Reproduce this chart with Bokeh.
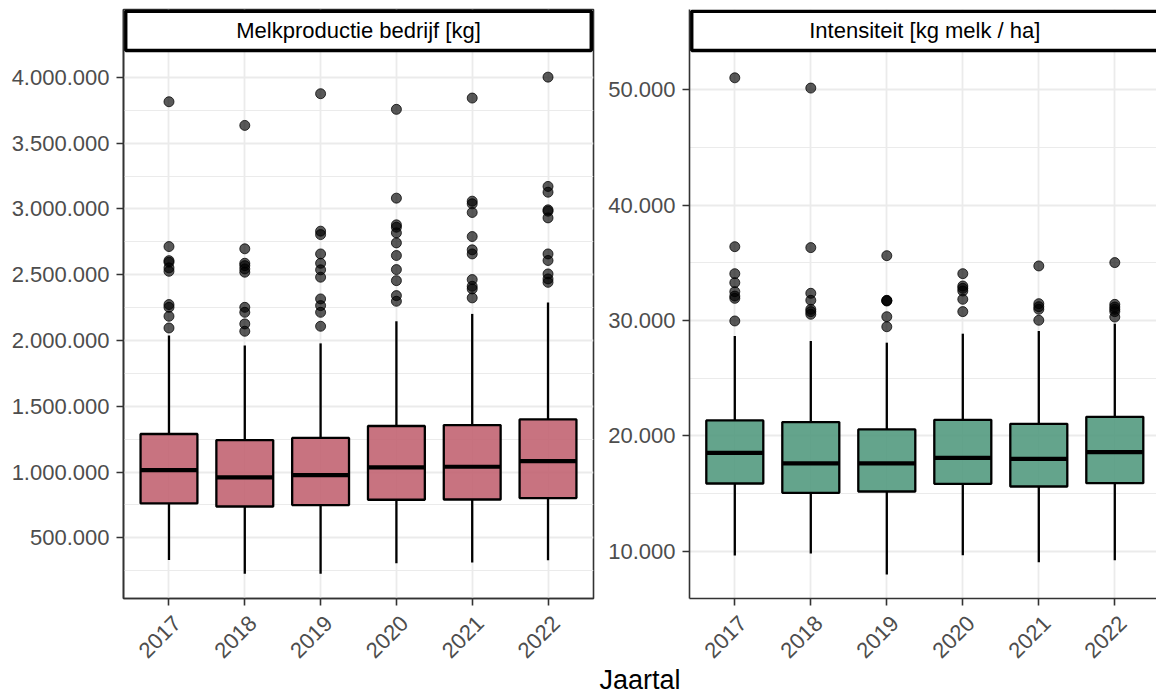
import math
from bokeh.plotting import figure
from bokeh.models import Range1d, FixedTicker, LinearAxis, Title
from bokeh.layouts import row
from bokeh.embed import file_html
from bokeh.resources import INLINE
from bokeh.core.properties import value

# ---------------- data ----------------
years = ["2017", "2018", "2019", "2020", "2021", "2022"]

melk_low = [332000, 226000, 226000, 307000, 312000, 330000]
melk_q1 = [761000, 738000, 749000, 789000, 791000, 802000]
melk_med = [1015000, 959000, 977000, 1035000, 1040000, 1083000]
melk_q3 = [1289000, 1243000, 1259000, 1350000, 1357000, 1400000]
melk_high = [2037000, 1961000, 1978000, 2146000, 2202000, 2288000]
melk_out = [
    [3815000, 2714000, 2607000, 2595000, 2552000, 2526000, 2273000, 2252000, 2184000, 2095000],
    [3635000, 2697000, 2587000, 2569000, 2544000, 2519000, 2252000, 2214000, 2126000, 2070000],
    [3876000, 2831000, 2805000, 2658000, 2587000, 2537000, 2481000, 2316000, 2265000, 2214000, 2108000],
    [3757000, 3082000, 2879000, 2861000, 2818000, 2742000, 2646000, 2539000, 2455000, 2341000, 2298000],
    [3843000, 3059000, 3039000, 2973000, 2790000, 2689000, 2658000, 2463000, 2412000, 2392000, 2324000],
    [4002000, 3171000, 3127000, 2993000, 2983000, 2932000, 2658000, 2608000, 2506000, 2468000, 2442000],
]
melk_ticks = [500000, 1000000, 1500000, 2000000, 2500000, 3000000, 3500000, 4000000]
melk_minor = [250000, 750000, 1250000, 1750000, 2250000, 2750000, 3250000, 3750000]

int_low = [9626, 9800, 7977, 9652, 9045, 9218]
int_q1 = [15872, 15062, 15178, 15839, 15611, 15900]
int_med = [18528, 17607, 17607, 18094, 18007, 18586]
int_q3 = [21340, 21192, 20560, 21392, 21045, 21652]
int_high = [28655, 28222, 28078, 28857, 29089, 29725]
int_out = [
    [51040, 36400, 34060, 33280, 32500, 32120, 31920, 29960],
    [50150, 36320, 32360, 31750, 30970, 30770, 30540],
    [35620, 31750, 31690, 31720, 30330, 29460],
    [34060, 32990, 32790, 32560, 31840, 30770],
    [34730, 31460, 31200, 30970, 30020],
    [35020, 31400, 31170, 30970, 30770, 30300],
]
int_ticks = [10000, 20000, 30000, 40000, 50000]
int_minor = [15000, 25000, 35000, 45000]

strip_titles = ["Melkproductie bedrijf [kg]", "Intensiteit [kg melk / ha]"]
x_title = "Jaartal"

FONT = "Liberation Sans"
H = 693
FRAME_TOP = 9
FRAME_BOTTOM = 598


def fmt(v):
    return f"{v:,}".replace(",", ".")


def make_panel(width, mb_left, mb_right, xr, yr, low, q1, med, q3, high, outs,
               ticks, minor, fill, title, strip_y, outline, strip_left, strip_right, px_per_unit):
    xs = list(range(1, len(years) + 1))
    p = figure(width=width, height=H, x_range=Range1d(*xr), y_range=Range1d(*yr),
               output_backend="svg", toolbar_location=None, title=None,
               min_border_left=mb_left, min_border_right=mb_right,
               min_border_top=FRAME_TOP, min_border_bottom=H - FRAME_BOTTOM)
    p.background_fill_color = "white"
    p.border_fill_color = "white"
    p.outline_line_color = "#333333" if outline else None
    p.outline_line_width = 1.6

    p.xgrid.grid_line_color = "#EBEBEB"
    p.xgrid.grid_line_width = 1.8
    p.ygrid.grid_line_color = "#EBEBEB"
    p.ygrid.grid_line_width = 1.8
    p.ygrid.minor_grid_line_color = "#EBEBEB"
    p.ygrid.minor_grid_line_width = 1.1

    yax = p.left[0]
    yax.ticker = FixedTicker(ticks=ticks, minor_ticks=minor)
    yax.major_label_overrides = {t: fmt(t) for t in ticks}
    xax = p.below[0]
    xax.ticker = FixedTicker(ticks=xs)
    xax.major_label_overrides = {i: "" for i in xs}
    xax.major_label_text_font_size = "1px"
    xax.major_label_standoff = 0
    for ax in (xax, yax):
        ax.axis_line_color = "#333333"
        ax.axis_line_width = 1.6
        ax.major_tick_line_color = "#333333"
        ax.major_tick_line_width = 1.6
        ax.major_tick_out = 7
        ax.major_tick_in = 0
        ax.minor_tick_line_color = None
    yax.major_label_text_font = FONT
    yax.major_label_text_font_size = "22px"
    yax.major_label_text_color = "#4D4D4D"
    yax.major_label_standoff = 7

    # rotated year labels, on a copy of the x scale shifted so they end at the tick
    dx = 8.0 / px_per_unit
    p.extra_x_ranges = {"lab": Range1d(xr[0] - dx, xr[1] - dx)}
    lab_ax = LinearAxis(x_range_name="lab", ticker=FixedTicker(ticks=xs),
                        major_label_overrides={i: y for i, y in zip(xs, years)},
                        major_label_orientation=math.pi / 4,
                        axis_line_color=None, major_tick_line_color=None,
                        minor_tick_line_color=None, major_tick_out=0, major_tick_in=0,
                        major_label_standoff=14,
                        major_label_text_font=FONT, major_label_text_font_size="22px",
                        major_label_text_color="#4D4D4D")
    p.add_layout(lab_ax, "below")

    hw = 0.375
    p.segment(x0=xs, y0=q3, x1=xs, y1=high, line_color="black", line_width=2.3)
    p.segment(x0=xs, y0=low, x1=xs, y1=q1, line_color="black", line_width=2.3)
    p.quad(left=[x - hw for x in xs], right=[x + hw for x in xs], bottom=q1, top=q3,
           fill_color=fill, fill_alpha=0.9, line_color="black", line_width=2.3)
    p.segment(x0=[x - hw for x in xs], y0=med, x1=[x + hw for x in xs], y1=med,
              line_color="black", line_width=4.2)
    ox, oy = [], []
    for x, vals in zip(xs, outs):
        ox += [x] * len(vals)
        oy += vals
    p.scatter(ox, oy, size=10, marker="circle", fill_color="black", fill_alpha=0.65,
              line_color="black", line_alpha=0.75, line_width=1)

    # facet strip
    p.quad(left=[strip_left], right=[strip_right], bottom=[strip_y[1]], top=[strip_y[0]],
           fill_color="white", line_color="black", line_width=3.5)
    p.text(x=[3.5], y=[(strip_y[0] + strip_y[1]) / 2], text=[title],
           text_font=value(FONT), text_font_size="22px", text_color="black",
           text_align="center", text_baseline="middle")
    return p


def ly(py):
    return 4000000 - (py - 76.9) * 7602.3


def ry(py):
    return 50000 - (py - 89.3) * 86.69


L_PX = 470 / 6.2
R_PX = 76.0
l0 = 0.4
r0 = 1 - (734.3 - 689) / R_PX

p1 = make_panel(596, 123, 3, (l0, 6.6), (ly(FRAME_BOTTOM), ly(FRAME_TOP)),
                melk_low, melk_q1, melk_med, melk_q3, melk_high, melk_out,
                melk_ticks, melk_minor, "#C26472", strip_titles[0],
                (ly(10.7), ly(50)), True, l0 + 2.2 / L_PX, 6.6 - 2.2 / L_PX, L_PX)

p2 = make_panel(560, 93, 0, (r0, r0 + 467 / R_PX), (ry(FRAME_BOTTOM), ry(FRAME_TOP)),
                int_low, int_q1, int_med, int_q3, int_high, int_out,
                int_ticks, int_minor, "#539A7F", strip_titles[1],
                (ry(10.7), ry(50)), False, r0 + 2.2 / R_PX, 7.5, R_PX)

# shared x-axis title, placed under the gap between the two panels
xt = Title(text=x_title, align="left", offset=-90, standoff=-9,
           text_font=FONT, text_font_size="27px", text_font_style="normal",
           text_color="black")
p2.add_layout(xt, "below")

layout = row(p1, p2)
open("out.html", "w").write(file_html(layout, INLINE))
